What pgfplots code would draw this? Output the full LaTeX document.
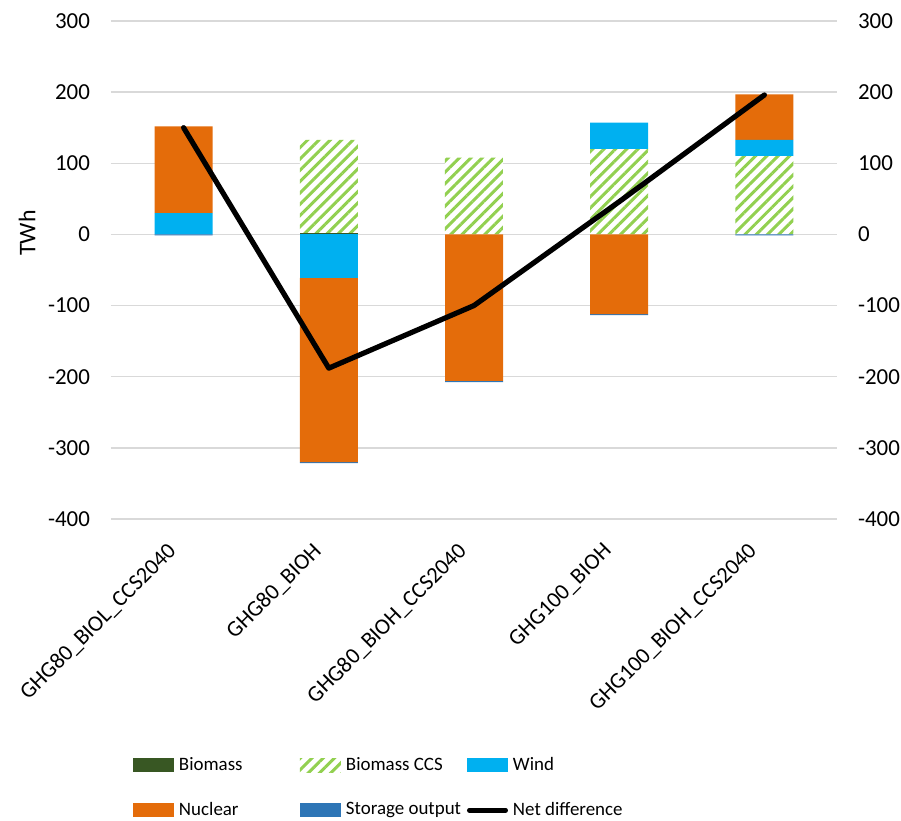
\documentclass[border=0pt]{standalone}
\usepackage{fontspec}
\setmainfont{Carlito}
\usepackage{pgfplots}
\pgfplotsset{compat=1.18}
\usetikzlibrary{patterns.meta}
\definecolor{biomass}{HTML}{385723}
\definecolor{ccs}{HTML}{92D050}
\definecolor{wind}{HTML}{00B0F0}
\definecolor{nuclear}{HTML}{E46C0A}
\definecolor{storage}{HTML}{2E75B6}
\definecolor{gridc}{HTML}{D9D9D9}
\pgfplotsset{
  base/.style={scale only axis, width=363bp, height=249bp,
    xmin=-0.5, xmax=4.5, ymin=-400, ymax=300,
    axis line style={draw=none}, tick style={draw=none},
    /pgf/number format/assume math mode=true,
    ytick={-400,-300,...,300}, xtick={0,...,4}},
  barst/.style={draw=none, bar width=29bp},
  legbar/.style={legend image code/.code={\draw[##1,draw=none] (0bp,-3.5bp) rectangle (20.5bp,3.5bp);}},
  legline/.style={legend image code/.code={\draw[##1] (1.2bp,0bp) -- (19.3bp,0bp);}},
  ccsst/.style={fill=white, postaction={pattern={Lines[angle=45,distance=4bp,line width=1.5bp]}, pattern color=ccs}},
}
\newcommand{\LE}[1]{\makebox[63bp][l]{\hspace*{2.5bp}#1}}
\begin{document}
\begin{tikzpicture}
\begin{axis}[base, ybar stacked,
  ymajorgrids, grid style={gridc, line width=0.75bp},
  xticklabels={GHG80\_BIOL\_CCS2040, GHG80\_BIOH, GHG80\_BIOH\_CCS2040, GHG100\_BIOH, GHG100\_BIOH\_CCS2040},
  xticklabel style={xshift=-3bp, yshift=-12bp, rotate=45, anchor=east, font=\fontsize{11.3}{13.5}\selectfont},
  yticklabel style={font=\fontsize{11.5}{14}\selectfont, xshift=-7bp},
  ylabel={TWh},
  ylabel style={at={(axis description cs:-0.1157,0.574)}, anchor=center, font=\fontsize{12}{14}\selectfont},
  legend columns=3,
  legend cell align=left,
  legend style={draw=none, fill=none, at={(axis description cs:0,0)}, anchor=north west,
    xshift=11bp, yshift=-119bp, font=\fontsize{9.5}{11.5}\selectfont,
    inner sep=0pt, outer sep=0pt, column sep=0pt, row sep=14.5bp, nodes={inner sep=0pt}},
]
\addplot[barst, fill=biomass, legbar] coordinates {(0,0) (1,2) (2,0) (3,0) (4,0)};
\addlegendentry{\LE{Biomass}}
\addplot[barst, ccsst, legbar] coordinates {(0,0) (1,131) (2,108) (3,120) (4,110)};
\addlegendentry{\LE{Biomass CCS}}
\addplot[barst, fill=wind, legbar] coordinates {(0,30) (1,0) (2,0) (3,37) (4,23)};
\addlegendentry{\LE{Wind}}
\addplot[barst, fill=nuclear, legbar] coordinates {(0,122) (1,0) (2,0) (3,0) (4,64)};
\addlegendentry{\LE{Nuclear}}
\addplot[barst, fill=storage, legbar] coordinates {(0,0) (1,0) (2,0) (3,0) (4,0)};
\addlegendentry{\LE{Storage output}}
\addlegendimage{black, line width=2.4bp, line cap=round, legline}
\addlegendentry{\LE{Net difference}}
\end{axis}
\begin{axis}[base, ybar stacked, hide axis]
\addplot[barst, fill=wind] coordinates {(0,0) (1,-61) (2,0) (3,0) (4,0)};
\addplot[barst, fill=nuclear] coordinates {(0,0) (1,-259) (2,-206) (3,-112) (4,0)};
\addplot[barst, fill=storage] coordinates {(0,-1.5) (1,-1.5) (2,-1.5) (3,-1.5) (4,-1.5)};
\end{axis}
\begin{axis}[base, axis y line*=right, axis x line=none, xtick=\empty,
  yticklabel style={font=\fontsize{11.5}{14}\selectfont, xshift=7bp}]
\addplot[black, line width=2.6bp, line cap=round, line join=round, mark=none] coordinates {(0,150) (1,-188) (2,-100) (3,46) (4,196)};
\end{axis}
\pgfresetboundingbox
\path ([shift={(-55.5bp,-151bp)}]current axis.south west) rectangle ([shift={(32bp,10.5bp)}]current axis.north east);
\end{tikzpicture}
\end{document}
